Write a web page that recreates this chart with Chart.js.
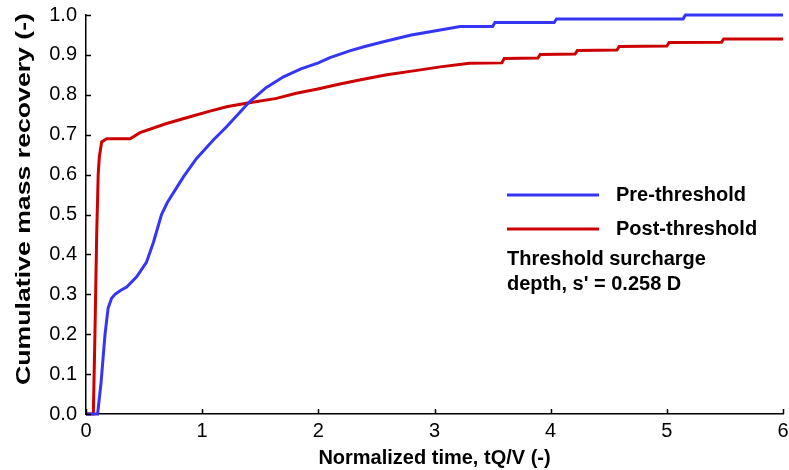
<!DOCTYPE html>
<html>
<head>
<meta charset="utf-8">
<script src="https://cdn.jsdelivr.net/npm/chart.js@4"></script>
<style>
  html, body { margin: 0; padding: 0; background: #ffffff; }
  #wrap { width: 789px; height: 470px; }
</style>
</head>
<body>
<div id="wrap"><canvas id="c" width="789" height="470"></canvas></div>
<script>
// ---- data ----
const preThresholdX = [0, 0.10, 0.13, 0.164, 0.19, 0.22, 0.25, 0.30, 0.35, 0.436, 0.52, 0.58, 0.65, 0.70, 0.84, 0.95, 1.10, 1.21, 1.41, 1.55, 1.70, 1.85, 2.00, 2.10, 2.27, 2.40, 2.56, 2.80, 3.00, 3.22, 3.50, 3.52, 4.03, 4.05, 5.14, 5.16, 6.00];
const preThresholdY = [0, 0, 0.08, 0.20, 0.265, 0.29, 0.30, 0.31, 0.318, 0.344, 0.38, 0.43, 0.50, 0.53, 0.595, 0.64, 0.688, 0.72, 0.783, 0.818, 0.845, 0.865, 0.88, 0.893, 0.91, 0.921, 0.933, 0.95, 0.96, 0.971, 0.971, 0.981, 0.981, 0.99, 0.99, 1.0, 1.0];

const postThresholdX = [0, 0.063, 0.077, 0.092, 0.105, 0.115, 0.135, 0.178, 0.38, 0.465, 0.694, 0.895, 1.067, 1.21, 1.38, 1.64, 1.81, 1.985, 2.186, 2.387, 2.59, 2.82, 3.05, 3.30, 3.58, 3.60, 3.89, 3.91, 4.21, 4.23, 4.57, 4.59, 5.00, 5.02, 5.47, 5.49, 6.00];
const postThresholdY = [0, 0, 0.20, 0.45, 0.60, 0.645, 0.682, 0.69, 0.69, 0.705, 0.728, 0.745, 0.759, 0.770, 0.779, 0.791, 0.804, 0.814, 0.827, 0.839, 0.85, 0.86, 0.87, 0.879, 0.88, 0.891, 0.892, 0.901, 0.902, 0.911, 0.912, 0.921, 0.922, 0.931, 0.932, 0.94, 0.94];

const xTickValues = [0, 1, 2, 3, 4, 5, 6];
const yTickValues = [0, 0.1, 0.2, 0.3, 0.4, 0.5, 0.6, 0.7, 0.8, 0.9, 1.0];

const seriesNames = ['Pre-threshold', 'Post-threshold'];
const noteLines = ['Threshold surcharge', "depth, s' = 0.258 D"];
const xTitle = 'Normalized time, tQ/V (-)';
const yTitle = 'Cumulative mass recovery (-)';

const BLUE = '#3535f5';
const RED = '#cc0000';
const FONT = '"Liberation Sans", Arial, sans-serif';

function toPoints(xs, ys) { return xs.map((x, i) => ({ x: x, y: ys[i] })); }

// inward tick marks
const innerTicks = {
  id: 'innerTicks',
  afterDraw(chart) {
    const ctx = chart.ctx;
    const xs = chart.scales.x, ys = chart.scales.y;
    const a = chart.chartArea;
    ctx.save();
    ctx.strokeStyle = '#000';
    ctx.lineWidth = 1.5;
    ctx.beginPath();
    xTickValues.forEach(v => {
      const p = Math.round(xs.getPixelForValue(v)) + 0.5;
      ctx.moveTo(p, a.bottom); ctx.lineTo(p, a.bottom - 5);
    });
    yTickValues.forEach(v => {
      const p = Math.round(ys.getPixelForValue(v)) + 0.5;
      ctx.moveTo(a.left, p); ctx.lineTo(a.left + 5, p);
    });
    ctx.stroke();
    ctx.restore();
  }
};

// y-axis title (stretched along its length like the reference), legend & note
const customText = {
  id: 'customText',
  afterDraw(chart) {
    const ctx = chart.ctx;
    ctx.save();
    ctx.font = 'bold 20px ' + FONT;
    ctx.fillStyle = '#000';
    ctx.textAlign = 'center';
    ctx.textBaseline = 'middle';
    const w = ctx.measureText(yTitle).width;
    const targetLen = 372;
    ctx.save();
    ctx.translate(24, 199);
    ctx.rotate(-Math.PI / 2);
    ctx.scale(targetLen / w, 1);
    ctx.fillText(yTitle, 0, 0);
    ctx.restore();

    const colors = [BLUE, RED];
    const ys = [195, 229];
    ctx.lineWidth = 3;
    ctx.textAlign = 'left';
    for (let i = 0; i < 2; i++) {
      ctx.strokeStyle = colors[i];
      ctx.beginPath();
      ctx.moveTo(507, ys[i]); ctx.lineTo(599, ys[i]);
      ctx.stroke();
      ctx.fillText(seriesNames[i], 616, ys[i]);
    }
    ctx.fillText(noteLines[0], 507, 259);
    ctx.fillText(noteLines[1], 507, 284);
    ctx.restore();
  }
};

new Chart(document.getElementById('c'), {
  type: 'line',
  data: {
    datasets: [
      { label: seriesNames[0], data: toPoints(preThresholdX, preThresholdY), borderColor: BLUE, borderWidth: 3, pointRadius: 0, tension: 0, fill: false, clip: 4 },
      { label: seriesNames[1], data: toPoints(postThresholdX, postThresholdY), borderColor: RED, borderWidth: 3, pointRadius: 0, tension: 0, fill: false, clip: 4 }
    ]
  },
  options: {
    responsive: false,
    animation: false,
    layout: { padding: { left: 0, right: 6, top: 15, bottom: 0 } },
    plugins: { legend: { display: false }, tooltip: { enabled: false } },
    scales: {
      x: {
        type: 'linear', min: 0, max: 6,
        afterFit(s) { s.height = 56; s.paddingLeft = 0; s.paddingRight = 0; },
        afterBuildTicks(s) { s.ticks = xTickValues.map(v => ({ value: v })); },
        grid: { display: false, drawTicks: false },
        border: { display: true, color: '#000', width: 1.5 },
        ticks: { color: '#000', font: { family: FONT, size: 20 }, padding: 5, callback: v => String(v) },
        title: { display: true, text: xTitle, color: '#000', font: { family: FONT, size: 20, weight: 'bold' }, padding: { top: 0, bottom: 0 } }
      },
      y: {
        type: 'linear', min: 0, max: 1,
        afterFit(s) { s.width = 86; s.paddingTop = 0; s.paddingBottom = 0; },
        afterBuildTicks(s) { s.ticks = yTickValues.map(v => ({ value: v })); },
        grid: { display: false, drawTicks: false },
        border: { display: true, color: '#000', width: 1.5 },
        ticks: { color: '#000', font: { family: FONT, size: 20 }, padding: 9, callback: v => v.toFixed(1) },
        title: { display: false }
      }
    }
  },
  plugins: [innerTicks, customText]
});
</script>
</body>
</html>
